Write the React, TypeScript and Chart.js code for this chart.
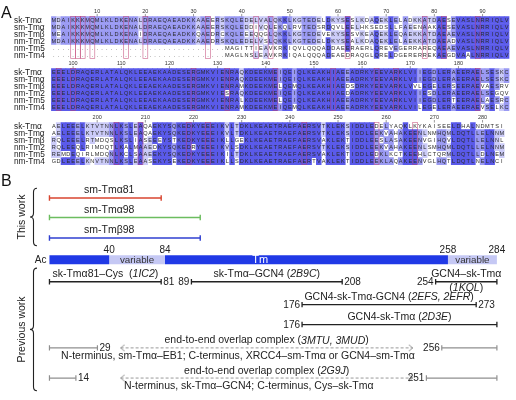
import React, { useEffect, useRef } from 'react';
import { Chart, registerables, LinearScale } from 'chart.js';

const FONT = "'Liberation Sans', Arial, Helvetica, sans-serif";

// ---------------- Panel A data ----------------
const ROW_NAMES = ['sk-Tmα', 'sm-Tmα', 'sm-Tmβ', 'nm-Tm2', 'nm-Tm5', 'nm-Tm4'];
const GAP = '.'.repeat(36);

const BLOCK_1 = [
  'MDAIKKKMQMLKLDKENALDRAEQAEADKKAAEERSKQLEDELVALQKKLKGTEDELDKYSESLKDAQEKLELADKKATDAESEVASLNRRIQLV',
  'MDAIKKKMQMLKLDKENALDRAEQAEADKKAAEERSKQLEDDIVQLEKQLRVTEDSRDQVLEELHKSEDSLLFAEENAAKAESEVASLNRRIQLV',
  'MEAIKKKMQMLKLDKENAIDRAEQAEADKKQAEDRCKQLEEEQQGLQKKLKGTEDEVEKYSESVKEAQEKLEQAEKKATDAEAEVASLNRRIQLV',
  'MDAIKKKMQMLKLDKENALDRAEQAEADKKAAEDRSKQLEDELVSLQKKLKGTEDELDKYSEALKDAQEKLELAEKKATDAEADVASLNRRIQLV',
  GAP + 'MAGITTIEAVKRKIQVLQQQADDAEERAERLQREVEGERRAREQAEAEVASLNRRIQLV',
  GAP + 'MAGLNSLEAVKRKIQALQQQADEAEDRAQGLQRELDGERERREKAEGDVAALNRRIQLV',
];
const BLOCK_2 = [
  'EEELDRAQERLATALQKLEEAEKAADESERGMKVIENRAQKDEEKMEIQEIQLKEAKHIAEEADRKYEEVARKLVIIEGDLERAEERAELSESKC',
  'EEELDRAQERLATALQKLEEAEKAADESERGMKVIENRAQKDEEKMEIQEIQLKEAKHIAEEADRKYEEVARKLVIIEGDLERAEERAELSESKC',
  'EEELDRAQERLATALQKLEEAEKAADESERGMKVIENRAMKDEEKMELQEMQLKEAKHIAEDSDRKYEEVARKLVVLEGELERSEERAEVAESRV',
  'EEELDRAQERLATALQKLEEAEKAADESERGMKVIESRAQKDEEKMEIQEIQLKEAKHIAEDADRKYEEVARKLVIIESDLERAEERAELSEGQV',
  'EEELDRAQERLATALQKLEEAEKAADESERGMKVIENRALKDEEKMELQEIQLKEAKHIAEEADRKYEEVARKLVIIEGDLERTEERAELAESRC',
  'EEELDRAQERLATALQKLEEAEKAADESERGMKVIENRAMKDEEKMEIQEMQLKEAKHIAEEADRKYEEVARKLVILEGELERAEERAEVSELKC',
];
const BLOCK_3 = [
  'AELEEELKTVTNNLKSLEAQAEKYSQKEDKYEEEIKVLTDKLKEAETRAEFAERSVTKLEKSIDDLEDELYAQKLKYKAISEELDHALNDMTSI',
  'AELEEELKTVTNNLKSLEAQAEKYSQKEDKYEEEIKVLTDKLKEAETRAEFAERSVTKLEKSIDDLEEKVAHAKEENLNMHQMLDQTLLELNNM',
  'RQLEEELRTMDQSLKSLIASEEEYSTKEDKYEEEIKLLGEKLKEAETRAEFAERSVAKLEKTIDDLEESLASAKEENVGIHQVLDQTLLELNNL',
  'RQLEEQLRIMDQTLKALMAAEDKYSQKEDRYEEEIKVLSDKLKEAETRAEFAERSVTKLEKSIDDLEEKVAHAKEENLSMHQMLDQTLLELNNM',
  'REMDEQIRLMDQNLKCLSAAEEKYSQKEDKYEEEIKILTDKLKEAETRAEFAERSVAKLEKTIDDLEDKLKCTKEEHLCTQRMLDQTLLDLNEM',
  'GDLEEELKNVTNNLKSLEAASEKYSEKEDKYEEEIKLLSDKLKEAETRAEFAERTVAKLEKTIDDLEEKLAQAKEENVGLHQTLDQTLNELNCI',
];
const BLOCKS = [BLOCK_1, BLOCK_2, BLOCK_3];
const BLOCK_START = [1, 96, 191];
const HEADER_1 = [10, 20, 30, 40, 50, 60, 70, 80, 90];
const HEADER_2 = [100, 110, 120, 130, 140, 150, 160, 170, 180];
const HEADER_3 = [200, 210, 220, 230, 240, 250, 260, 270, 280];
const HEADERS = [HEADER_1, HEADER_2, HEADER_3];
const BOXED_1 = [5, 6, 7, 9, 16, 20, 33, 43, 46, 62, 78, 82, 89];
const BOXED_2 = [2, 5, 30, 37, 47, 59, 68, 72, 89];
const BOXED_3 = [14, 19, 29, 33, 53, 68, 76];
const BOXED = [BOXED_1, BOXED_2, BOXED_3];

// ---------------- Panel B data ----------------
const GROUP_TITLES = ['This work', 'Previous work'];
const THIS_WORK_NAMES = ['sm-Tmα81', 'sm-Tmα98', 'sm-Tmβ98'];
const THIS_WORK_START = [1, 1, 1];
const THIS_WORK_END = [81, 98, 98];
const DOMAIN_FROM = [1, 40, 84, 258];
const DOMAIN_TO = [40, 84, 258, 284];
const DOMAIN_LABEL = ['', 'variable', 'Tm', 'variable'];
const DOMAIN_DARK = [true, false, true, false];
const DOMAIN_BOUNDS = [40, 84, 258, 284];
const SEQ_FIRST = 1;
const SEQ_LAST = 284;
const PREV_NAMES = ['sk-Tmα81–Cys', 'sk-Tmα–GCN4', 'GCN4–sk-Tmα', 'GCN4-sk-Tmα-GCN4', 'GCN4-sk-Tmα'];
const PREV_PDB = ['1IC2', '2B9C', '1KQL', '2EFS, 2EFR', '2D3E'];
const PREV_START = [1, 89, 254, 176, 176];
const PREV_END = [81, 208, 284, 273, 284];
const OVERLAP_PDB = ['3MTU, 3MUD', '2G9J'];
const OVERLAP_N_END = [29, 14];
const OVERLAP_C_START = [256, 251];
const OVERLAP_NOTES = [
  'N-terminus, sm-Tmα–EB1; C-terminus, XRCC4–sm-Tmα or GCN4–sm-Tmα',
  'N-terminus, sk-Tmα–GCN4; C-terminus, Cys–sk-Tmα',
];

// ---------------- layout & style ----------------
const L = {
  width: 516,
  height: 400,
  colLeft: 47,
  colWidth: 4.92,
  blockTop: [15, 68.5, 124],
  rowPitch: 7.2,
  labelX: 14,
  letterA: [1, 8],
  letterB: [1, 181],
  thisWorkLanes: [198, 218, 239],
  thisWorkLabelDy: -8,
  thisWorkLabelRes: 40,
  domainLane: 261.5,
  domainThickness: 9,
  domainNumY: 252,
  tmLabelRes: 144,
  prevLanes: [284, 284, 284, 307.5, 328],
  prevMode: ['inline2', 'inline', 'split', 'inline', 'inline'],
  labelDy: -7.5,
  overlapLanes: [352, 383],
  overlapNoteDy: 8,
  arrowSpan: [49, 244],
  braces: [[188, 247], [270, 396]],
  braceTipX: 30,
  braceTextX: 22,
  fontB: 10.5,
  fontNum: 10,
};
// piecewise (schematic) residue -> design-x calibration for panel B
const XB_KNOTS: number[][] = [
  [1, 45], [14, 72], [29, 94], [40, 106], [84, 163], [89, 190], [98, 199],
  [176, 303], [208, 344], [251, 430], [258, 452], [284, 502],
];
const C = {
  dark: '#5a5aea', mid: '#9a9af3', light: '#cbcbf8',
  letters: '#2a2a2a', box: 'rgba(190,60,110,0.7)', text: '#222',
  red: '#d8452f', green: '#6cbd5f', blue: '#2f3fd0',
  barDark: '#2039e6', barLight: '#c5c8f4',
  black: '#222', gray: '#8f8f8f', arrow: '#9a9a9a',
};
const THIS_WORK_COLORS = [C.red, C.green, C.blue];

function interp(knots: number[][], v: number, a: number, b: number) {
  if (v <= knots[0][a]) {
    const k0 = knots[0], k1 = knots[1];
    return k0[b] + (v - k0[a]) * (k1[b] - k0[b]) / (k1[a] - k0[a]);
  }
  for (let i = 1; i < knots.length; i++) {
    const k0 = knots[i - 1], k1 = knots[i];
    if (v <= k1[a]) return k0[b] + (v - k0[a]) * (k1[b] - k0[b]) / (k1[a] - k0[a]);
  }
  const k0 = knots[knots.length - 2], k1 = knots[knots.length - 1];
  return k0[b] + (v - k0[a]) * (k1[b] - k0[b]) / (k1[a] - k0[a]);
}

class PiecewiseScale extends LinearScale {
  static id = 'piecewise';
  static defaults = LinearScale.defaults;
  getPixelForValue(value: number) {
    const d = interp(XB_KNOTS, value, 0, 1);
    return (this as any).left + d / L.width * (this as any).width;
  }
  getValueForPixel(pixel: number) {
    const d = (pixel - (this as any).left) / (this as any).width * L.width;
    return interp(XB_KNOTS, d, 1, 0);
  }
}

Chart.register(...registerables, PiecewiseScale as any);

function cellColors(block: string[]) {
  const n = Math.max(...block.map((s) => s.length));
  const out: (string | null)[][] = block.map(() => []);
  for (let c = 0; c < n; c++) {
    const counts: Record<string, number> = {};
    block.forEach((s) => {
      const ch = s[c];
      if (ch && ch !== '.') counts[ch] = (counts[ch] || 0) + 1;
    });
    let best = '', bestN = 0;
    Object.keys(counts).forEach((k) => { if (counts[k] > bestN) { best = k; bestN = counts[k]; } });
    const frac = bestN / block.length;
    block.forEach((s, r) => {
      const ch = s[c];
      let col: string | null = null;
      if (ch === best) col = frac > 0.8 ? C.dark : frac > 0.6 ? C.mid : frac > 0.4 ? C.light : null;
      out[r][c] = col;
    });
  }
  return out;
}

function drawText(ctx: CanvasRenderingContext2D, s: string, x: number, y: number, align: string, size: number, color: string) {
  const runs = s.split('_').map((t, i) => ({ t, it: i % 2 === 1 }));
  const widths = runs.map((r) => {
    ctx.font = `${r.it ? 'italic ' : ''}${size}px ${FONT}`;
    return ctx.measureText(r.t).width;
  });
  const total = widths.reduce((a, b) => a + b, 0);
  let cx = align === 'center' ? x - total / 2 : align === 'right' ? x - total : x;
  ctx.fillStyle = color;
  ctx.textBaseline = 'middle';
  ctx.textAlign = 'left';
  runs.forEach((r, i) => {
    ctx.font = `${r.it ? 'italic ' : ''}${size}px ${FONT}`;
    ctx.fillText(r.t, cx, y);
    cx += widths[i];
  });
}

function drawBrace(ctx: CanvasRenderingContext2D, xTip: number, y1: number, y2: number) {
  const xs = xTip + 3.5, xe = xTip + 7, ym = (y1 + y2) / 2, r = 4;
  ctx.beginPath();
  ctx.moveTo(xe, y1);
  ctx.quadraticCurveTo(xs, y1, xs, y1 + r);
  ctx.lineTo(xs, ym - r);
  ctx.quadraticCurveTo(xs, ym, xTip, ym);
  ctx.quadraticCurveTo(xs, ym, xs, ym + r);
  ctx.lineTo(xs, y2 - r);
  ctx.quadraticCurveTo(xs, y2, xe, y2);
  ctx.strokeStyle = C.black;
  ctx.lineWidth = 1.1;
  ctx.stroke();
}

const figurePlugin = {
  id: 'figure',
  afterDatasetsDraw(chart: any) {
    const ctx: CanvasRenderingContext2D = chart.ctx;
    const xa = chart.scales.xa, xb = chart.scales.xb, ys = chart.scales.y;
    const Y = (v: number) => ys.getPixelForValue(v);
    const XB = (v: number) => xb.getPixelForValue(v);
    ctx.save();
    drawText(ctx, 'A', L.letterA[0], Y(L.letterA[1]), 'left', 16, '#111');
    drawText(ctx, 'B', L.letterB[0], Y(L.letterB[1]), 'left', 16, '#111');

    // ----- alignment -----
    BLOCKS.forEach((block, b) => {
      const top = L.blockTop[b];
      ROW_NAMES.forEach((nm, r) => drawText(ctx, nm, L.labelX, Y(top + r * L.rowPitch) + 0.3, 'left', 8.3, C.text));
      ctx.font = `5.6px ${FONT}`;
      ctx.textAlign = 'center';
      ctx.textBaseline = 'middle';
      ctx.fillStyle = C.letters;
      block.forEach((seq, r) => {
        const py = Y(top + r * L.rowPitch) + 0.4;
        for (let c = 0; c < seq.length; c++) ctx.fillText(seq[c], xa.getPixelForValue(c + 1), py);
      });
      HEADERS[b].forEach((n) => {
        const px = xa.getPixelForValue(n - BLOCK_START[b] + 1);
        ctx.font = `5.5px ${FONT}`;
        ctx.textAlign = 'center';
        ctx.textBaseline = 'middle';
        ctx.fillStyle = '#333';
        ctx.fillText(String(n), px, Y(top - 8.5));
        ctx.beginPath();
        ctx.moveTo(px, Y(top - 6.2));
        ctx.lineTo(px, Y(top - L.rowPitch / 2));
        ctx.strokeStyle = '#555';
        ctx.lineWidth = 0.6;
        ctx.stroke();
      });
      ctx.strokeStyle = C.box;
      ctx.lineWidth = 0.7;
      BOXED[b].forEach((col) => {
        const x0 = xa.getPixelForValue(col - 0.5), x1 = xa.getPixelForValue(col + 0.5);
        const y0 = Y(top - L.rowPitch / 2), y1 = Y(top + 5.5 * L.rowPitch);
        ctx.strokeRect(x0, y0, x1 - x0, y1 - y0);
      });
    });

    // ----- panel B texts -----
    const fs = L.fontB;
    THIS_WORK_NAMES.forEach((nm, i) => drawText(ctx, nm, XB(L.thisWorkLabelRes), Y(L.thisWorkLanes[i] + L.thisWorkLabelDy), 'center', fs, C.text));
    DOMAIN_BOUNDS.forEach((v) => drawText(ctx, String(v), XB(v), Y(L.domainNumY), 'center', L.fontNum, C.text));
    drawText(ctx, 'Ac', XB(SEQ_FIRST) - 3, Y(L.domainLane), 'right', L.fontNum, C.text);
    DOMAIN_LABEL.forEach((lab, i) => {
      if (!lab) return;
      const isTm = DOMAIN_DARK[i];
      const cx = isTm ? XB(L.tmLabelRes) : (XB(DOMAIN_FROM[i]) + XB(DOMAIN_TO[i])) / 2;
      drawText(ctx, lab, cx, Y(L.domainLane) + 0.5, 'center', isTm ? 11 : 9.8, isTm ? '#fff' : '#333');
    });
    PREV_NAMES.forEach((nm, i) => {
      const lane = L.prevLanes[i];
      const cx = (XB(PREV_START[i]) + XB(PREV_END[i])) / 2;
      const mode = L.prevMode[i];
      if (mode === 'split') {
        drawText(ctx, nm, cx, Y(lane + L.labelDy), 'center', fs, C.text);
        drawText(ctx, '(_' + PREV_PDB[i] + '_)', cx, Y(lane + 7), 'center', fs, C.text);
      } else {
        const sep = mode === 'inline2' ? '  (_' : ' (_';
        drawText(ctx, nm + sep + PREV_PDB[i] + '_)', cx, Y(lane + L.labelDy), 'center', fs, C.text);
      }
      if (PREV_START[i] !== SEQ_FIRST) drawText(ctx, String(PREV_START[i]), XB(PREV_START[i]) - 2, Y(lane) + 0.5, 'right', L.fontNum, C.text);
      if (PREV_END[i] !== SEQ_LAST) drawText(ctx, String(PREV_END[i]), XB(PREV_END[i]) + 2, Y(lane) + 0.5, 'left', L.fontNum, C.text);
    });
    OVERLAP_PDB.forEach((pdb, i) => {
      const lane = L.overlapLanes[i];
      const cx = (XB(L.arrowSpan[0]) + XB(L.arrowSpan[1])) / 2;
      drawText(ctx, 'end-to-end overlap complex (_' + pdb + '_)', cx, Y(lane + L.labelDy), 'center', fs, C.text);
      drawText(ctx, String(OVERLAP_N_END[i]), XB(OVERLAP_N_END[i]) + 2, Y(lane) + 0.5, 'left', L.fontNum, C.text);
      drawText(ctx, String(OVERLAP_C_START[i]), XB(OVERLAP_C_START[i]) - 2, Y(lane) + 0.5, 'right', L.fontNum, C.text);
      const nx = (XB(SEQ_FIRST) + XB(OVERLAP_C_START[i] === 256 ? 251 : 258)) / 2;
      drawText(ctx, OVERLAP_NOTES[i], nx, Y(lane + L.overlapNoteDy), 'center', fs, C.text);
    });
    L.braces.forEach((br, i) => {
      drawBrace(ctx, L.braceTipX, Y(br[0]), Y(br[1]));
      ctx.save();
      ctx.translate(L.braceTextX, (Y(br[0]) + Y(br[1])) / 2);
      ctx.rotate(-Math.PI / 2);
      drawText(ctx, GROUP_TITLES[i], 0, 0, 'center', 10.5, C.text);
      ctx.restore();
    });
    ctx.restore();
  },
};

function chevron(dir: number) {
  const c = document.createElement('canvas');
  c.width = 10;
  c.height = 8;
  const g = c.getContext('2d') as CanvasRenderingContext2D;
  g.strokeStyle = C.arrow;
  g.lineWidth = 1;
  g.beginPath();
  if (dir < 0) { g.moveTo(9, 0.8); g.lineTo(5, 4); g.lineTo(9, 7.2); }
  else { g.moveTo(1, 0.8); g.lineTo(5, 4); g.lineTo(1, 7.2); }
  g.stroke();
  return c;
}

function buildDatasets() {
  const ds: any[] = [];
  BLOCKS.forEach((block, b) => {
    const colors = cellColors(block);
    block.forEach((seq, r) => {
      const yc = L.blockTop[b] + r * L.rowPitch;
      const data: any[] = [];
      const bg: string[] = [];
      for (let c = 0; c < seq.length; c++) {
        const col = colors[r][c];
        if (!col) continue;
        data.push({ x: c + 1, y: [yc - L.rowPitch / 2, yc + L.rowPitch / 2] });
        bg.push(col);
      }
      ds.push({
        type: 'bar', xAxisID: 'xa', yAxisID: 'y', data, backgroundColor: bg,
        grouped: false, categoryPercentage: 1, barPercentage: 1, borderWidth: 0, order: 5,
      });
    });
  });
  const seg = (x1: number, x2: number, y: number, color: string, caps: boolean, width = 1.4) => ({
    type: 'line', xAxisID: 'xb', yAxisID: 'y',
    data: [{ x: x1, y }, { x: x2, y }],
    borderColor: color, borderWidth: width, fill: false, tension: 0,
    pointStyle: 'line', pointRotation: 90, pointRadius: caps ? 2.7 : 0,
    pointBorderColor: color, pointBorderWidth: width, order: 1,
  });
  THIS_WORK_NAMES.forEach((_, i) => ds.push(seg(THIS_WORK_START[i], THIS_WORK_END[i], L.thisWorkLanes[i], THIS_WORK_COLORS[i], true)));
  DOMAIN_FROM.forEach((f, i) => {
    const d: any = seg(f, DOMAIN_TO[i], L.domainLane, DOMAIN_DARK[i] ? C.barDark : C.barLight, false, L.domainThickness);
    d.borderCapStyle = 'butt';
    ds.push(d);
  });
  PREV_NAMES.forEach((_, i) => ds.push(seg(PREV_START[i], PREV_END[i], L.prevLanes[i], C.black, true, 1.3)));
  const left = chevron(-1), right = chevron(1);
  OVERLAP_PDB.forEach((_, i) => {
    const lane = L.overlapLanes[i];
    ds.push(seg(SEQ_FIRST, OVERLAP_N_END[i], lane, C.gray, true, 1.2));
    ds.push(seg(OVERLAP_C_START[i], SEQ_LAST, lane, C.gray, true, 1.2));
    ds.push({
      type: 'line', xAxisID: 'xb', yAxisID: 'y',
      data: [{ x: L.arrowSpan[0], y: lane }, { x: L.arrowSpan[1], y: lane }],
      borderColor: C.arrow, borderWidth: 1, borderDash: [3, 2], fill: false,
      pointStyle: [left, right], pointRadius: 4, order: 1,
    });
  });
  return ds;
}

export default function App() {
  const ref = useRef<HTMLCanvasElement | null>(null);
  useEffect(() => {
    if (!ref.current) return;
    const xaMin = 0.5 - L.colLeft / L.colWidth;
    const xaMax = xaMin + L.width / L.colWidth;
    const chart = new Chart(ref.current, {
      type: 'bar',
      data: { datasets: buildDatasets() },
      options: {
        animation: false,
        responsive: false,
        events: [],
        layout: { padding: 0 },
        plugins: { legend: { display: false }, tooltip: { enabled: false }, title: { display: false } },
        scales: {
          xa: { type: 'linear', axis: 'x', min: xaMin, max: xaMax, display: false, offset: false },
          xb: { type: 'piecewise', axis: 'x', min: 0, max: 300, display: false, offset: false },
          y: { type: 'linear', min: 0, max: L.height, reverse: true, display: false, offset: false },
        },
      } as any,
      plugins: [figurePlugin],
    } as any);
    return () => chart.destroy();
  }, []);
  return (
    <div style={{ position: 'fixed', left: 0, top: 0, width: L.width, height: L.height, background: '#fff' }}>
      <canvas ref={ref} width={L.width} height={L.height} style={{ display: 'block', width: L.width, height: L.height }} />
    </div>
  );
}
